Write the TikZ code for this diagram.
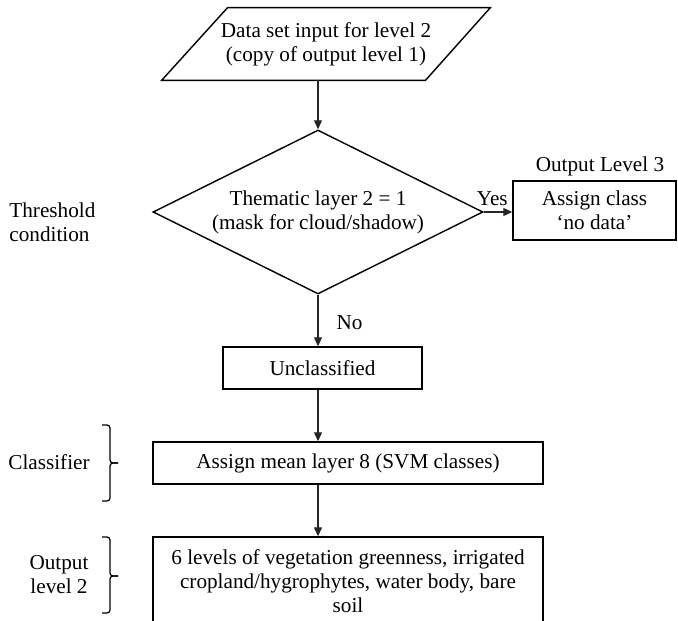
\documentclass[tikz,border=0pt]{standalone}
\usepackage{fontspec}
\setmainfont{Liberation Serif}
\usetikzlibrary{shapes.geometric,arrows.meta,calc}
\begin{document}
\begin{tikzpicture}[x=0.5pt,y=-0.5pt,
  every node/.style={font=\fontsize{10.6}{12}\selectfont, inner sep=0pt, align=center},
  box/.style={draw, line width=0.7pt, rectangle},
  flow/.style={line width=0.6pt, draw=black!85, -{Triangle[length=4.5pt,width=4pt]}},
  sidebrace/.style={draw, line width=0.6pt, rounded corners=1.5pt},
]
\clip (0,0) rectangle (678,620);
\fill[white] (0,0) rectangle (678,620);

% input data set (parallelogram)
\node (input) at (326,44) [minimum width=164pt, minimum height=36pt]
  {Data set input for level 2\\(copy of output level 1)};
\draw[line width=0.7pt] ($(input.north west)+(66,0)$) -- (input.north east)
  -- ($(input.south east)+(-65,0)$) -- (input.south west) -- cycle;

% threshold decision
\node (dia) at (318,212) [diamond, draw, line width=0.7pt, aspect=2,
  minimum width=165pt, minimum height=82pt]
  {Thematic layer 2 = 1\\(mask for cloud/shadow)};

% level 3 output
\node (nod) at (594.5,210.5) [box, minimum width=81.5pt, minimum height=29.5pt]
  {Assign class\\‘no data’};
\node (lvl3) at (600,166) {Output Level 3};

% classification chain
\node (uncl) at (322.5,368) [box, minimum width=99.5pt, minimum height=21pt] {Unclassified};
\node (svm) at (348,463) [box, minimum width=195pt, minimum height=21pt]
  {Assign mean layer 8 (SVM classes)};
\node (out2) at (348,581) [box, minimum width=195pt, minimum height=44pt]
  {6 levels of vegetation greenness, irrigated\\cropland/hygrophytes, water body, bare\\soil};

% side labels with their square braces
\node (thr) [anchor=west, align=left] at (9,222) {Threshold\\condition};
\node (cls) [anchor=west] at (8,462) {Classifier};
\node (o2l) at (59,575) {Output\\level 2};
\draw[sidebrace] (102,425) -| (110,463) -- (118,463);
\draw[sidebrace] (118,463) -- (110,463) |- (102,501);
\draw[sidebrace] (102,537) -| (110,576) -- (118,576);
\draw[sidebrace] (118,576) -- (110,576) |- (102,613);

% connectors
\draw[flow] (dia.north |- input.south) -- (dia.north);
\draw[flow] (dia.east) -- node[pos=0.3, above=3pt] {Yes} (dia.east -| nod.west);
\draw[flow] (dia.south) -- node[pos=0.55, right=9pt] {No} (dia.south |- uncl.north);
\draw[flow] (uncl.south -| dia.south) -- (svm.north -| dia.south);
\draw[flow] (svm.south -| dia.south) -- (out2.north -| dia.south);
\end{tikzpicture}
\end{document}
